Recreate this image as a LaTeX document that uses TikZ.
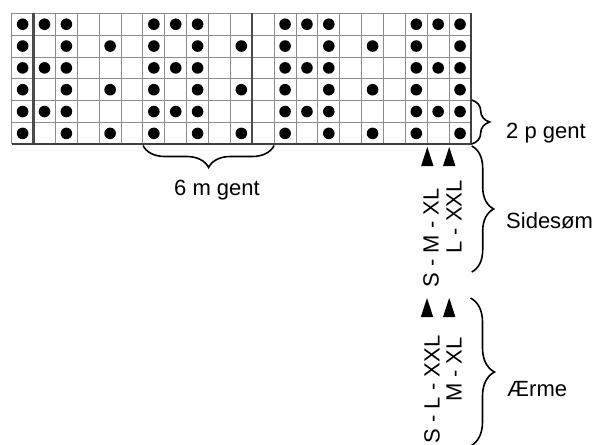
\documentclass[tikz,border=0pt]{standalone}
\usepackage{fontspec}
\setmainfont{Liberation Sans}
\usetikzlibrary{decorations.pathreplacing}
\begin{document}
\begin{tikzpicture}[x=1pt,y=-1pt,
  thinline/.style={draw=black!45, line width=0.9pt},
  thickline/.style={draw=black!70, line width=2.4pt},
  edgeline/.style={draw=black!75, line width=1.8pt},
  dot/.style={circle, fill=black, inner sep=0pt, minimum size=11.6pt},
  bracestyle/.style={draw=black, line width=1.6pt, decorate},
  lbl/.style={inner sep=0pt, font=\fontsize{22}{26}\selectfont},
  sizelbl/.style={inner sep=0pt, rotate=90, anchor=base east, font=\fontsize{22}{26}\selectfont},
  tri/.style={fill=black}
]
\useasboundingbox (0,0) rectangle (593,444);
\def\gx{11.7}\def\gy{13.3}\def\cw{21.87}\def\ch{21.833}
% grid
\foreach \i in {0,...,21} \draw[thinline] ({\gx+\i*\cw},\gy) -- ({\gx+\i*\cw},{\gy+6*\ch});
\foreach \j in {0,...,6} \draw[thinline] (\gx,{\gy+\j*\ch}) -- ({\gx+21*\cw},{\gy+\j*\ch});
\draw[thickline] ({\gx+1*\cw},\gy) -- ({\gx+1*\cw},{\gy+6*\ch});
\draw[thickline] ({\gx+11*\cw},\gy) -- ({\gx+11*\cw},{\gy+6*\ch});
\draw[edgeline] (\gx,{\gy+6*\ch}) -- ({\gx+21*\cw},{\gy+6*\ch}) -- ({\gx+21*\cw},\gy);
% dots
\foreach \r in {1,3,5} \foreach \c in {1,2,3,7,8,9,13,14,15,19,20,21}
  \node[dot] at ({\gx+(\c-0.5)*\cw},{\gy+(\r-0.5)*\ch}) {};
\foreach \r in {2,4,6} \foreach \c in {1,3,5,7,9,11,13,15,17,19,21}
  \node[dot] at ({\gx+(\c-0.5)*\cw},{\gy+(\r-0.5)*\ch}) {};
% braces
\coordinate (b6a) at (143.0,145.5);
\coordinate (b6b) at (274.1,145.5);
\draw[bracestyle, decoration={brace, mirror, amplitude=22pt}] (b6a) -- (b6b);
\node[lbl, anchor=base west] (m6) at (174,195) {6 m gent};
\coordinate (b2a) at (471.7,100);
\coordinate (b2b) at (471.7,144);
\draw[bracestyle, decoration={brace, amplitude=18pt}] (b2a) -- (b2b);
\node[lbl, anchor=base west] (p2) at (506,138.5) {2 p gent};
\coordinate (bsa) at (471.7,146);
\coordinate (bsb) at (471.7,272);
\draw[bracestyle, decoration={brace, amplitude=22pt}] (bsa) -- (bsb);
\node[lbl, anchor=base west] (side) at (506,228) {Sidesøm};
\coordinate (bea) at (470.5,298);
\coordinate (beb) at (470.5,446);
\draw[bracestyle, decoration={brace, amplitude=24pt}] (bea) -- (beb);
\node[lbl, anchor=base west] (aerme) at (507,396) {Ærme};
% arrows
\coordinate (a1) at (427.3,147);
\coordinate (a2) at (449.2,147);
\coordinate (a3) at (427.0,298);
\coordinate (a4) at (449.2,298);
\foreach \a in {a1,a2,a3,a4} \fill[tri] (\a) -- ++(-6.2,19) -- ++(12.4,0) -- cycle;
% size labels
\node[sizelbl] (s1) at (438.5,188) {S - M - XL};
\node[sizelbl] (s2) at (461.5,180) {L - XXL};
\node[sizelbl] (s3) at (439.5,335.5) {S - L - XXL};
\node[sizelbl] (s4) at (461.5,337) {M - XL};
\end{tikzpicture}
\end{document}
